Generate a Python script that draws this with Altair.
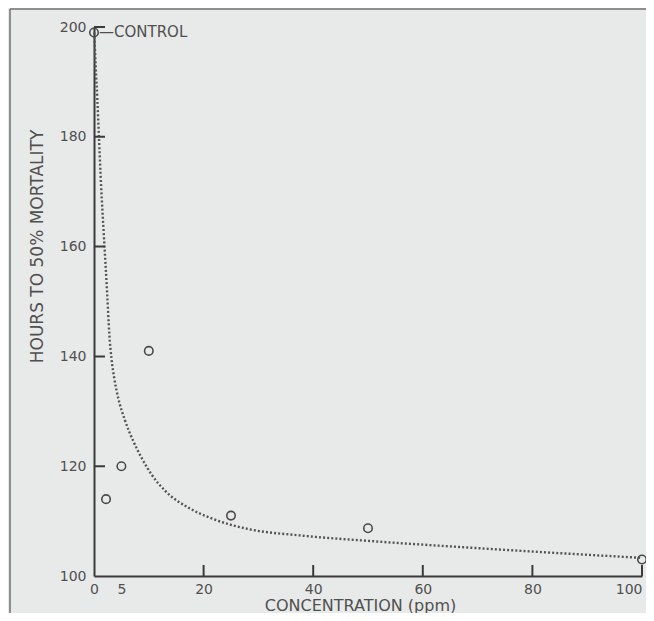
import altair as alt
import pandas as pd

# fitted dotted curve
curve_conc = [0.05, 0.3, 0.6, 0.9, 1.3, 1.8, 2.4, 2.8, 3.2, 3.7, 4.4, 5.6, 7.2, 8.7, 10.5,
              13.0, 17.5, 21.7, 28.4, 37.5, 50.0, 68.0, 86.0, 100.0]
curve_hours = [199, 193, 187, 180, 171, 162, 151.5, 144, 139.5, 136, 132.5, 128.5, 124.5, 121.5,
               118.5, 115.5, 112.3, 110.4, 108.5, 107.4, 106.4, 105.2, 104.1, 103.3]

# observed points
obs_conc = [0, 2.2, 5, 10, 25, 50, 100]
obs_hours = [199, 114, 120, 141, 111, 108.7, 103]

x_labels = [0, 5, 20, 40, 60, 80, 100]
y_labels = [100, 120, 140, 160, 180, 200]
x_ticks = [20, 40, 60, 80, 100]
y_ticks = [120, 140, 160, 180, 200]

control_label = ["\u2014CONTROL"]

FONT = "DejaVu Sans"
TEXT = "#505050"
AX = "#3a3a3a"

curve_df = pd.DataFrame({"conc": curve_conc, "hours": curve_hours})
obs_df = pd.DataFrame({"conc": obs_conc, "hours": obs_hours})
xt_df = pd.DataFrame({"conc": x_ticks, "h": [101] * len(x_ticks)})
yt_df = pd.DataFrame({"hours": y_ticks, "c": [1] * len(y_ticks)})
lab_df = pd.DataFrame({"conc": [obs_conc[0]], "hours": [obs_hours[0]], "t": control_label})

xscale = alt.Scale(domain=[0, 100], nice=False, zero=False)
yscale = alt.Scale(domain=[100, 200], nice=False, zero=False)

xaxis = alt.Axis(values=x_labels, ticks=False, grid=False, domainColor=AX, domainWidth=2,
                 labelFont=FONT, labelFontSize=14, labelColor=TEXT, labelPadding=6,
                 labelFlush=False, labelOverlap=False, format="d",
                 labelAlign=alt.expr("datum.value == 100 ? 'right' : 'center'"),
                 title="CONCENTRATION (ppm)", titleFont=FONT, titleFontSize=16,
                 titleFontWeight="normal", titleColor=TEXT, titleX=266, titleY=34,
                 titleBaseline="alphabetic", titleAlign="center")
yaxis = alt.Axis(values=y_labels, ticks=False, grid=False, domainColor=AX, domainWidth=2,
                 labelFont=FONT, labelFontSize=14, labelColor=TEXT, labelPadding=8,
                 labelFlush=False, labelOverlap=False, format="d",
                 title="HOURS TO 50% MORTALITY", titleFont=FONT, titleFontSize=17,
                 titleFontWeight="normal", titleColor=TEXT, titleAngle=270,
                 titleX=-52, titleY=219, titleBaseline="alphabetic", titleAlign="center")

curve = alt.Chart(curve_df).mark_line(
    strokeDash=[2, 2.1], strokeCap="butt", strokeWidth=2.4, color="#555555",
    interpolate="monotone"
).encode(
    x=alt.X("conc:Q", scale=xscale, axis=xaxis),
    y=alt.Y("hours:Q", scale=yscale, axis=yaxis),
)

points = alt.Chart(obs_df).mark_point(
    shape="circle", size=72, filled=False, strokeWidth=1.6, color="#4a4a4a", opacity=1
).encode(x=alt.X("conc:Q", scale=xscale), y=alt.Y("hours:Q", scale=yscale))

yt = alt.Chart(yt_df).mark_tick(
    orient="horizontal", size=11, thickness=2, color=AX, opacity=1
).encode(x=alt.X("c:Q", scale=xscale), y=alt.Y("hours:Q", scale=yscale))

xt = alt.Chart(xt_df).mark_tick(
    orient="vertical", size=11, thickness=2, color=AX, opacity=1
).encode(x=alt.X("conc:Q", scale=xscale), y=alt.Y("h:Q", scale=yscale))

label = alt.Chart(lab_df).mark_text(
    align="left", baseline="middle", dx=5, font=FONT, fontSize=15, color=TEXT
).encode(x=alt.X("conc:Q", scale=xscale), y=alt.Y("hours:Q", scale=yscale), text="t:N")

frame_top = alt.Chart(pd.DataFrame({"k": [0]})).mark_rule(color="#707070", strokeWidth=1.5).encode(
    x=alt.value(-84), x2=alt.value(560), y=alt.value(-18)
)
frame_left = alt.Chart(pd.DataFrame({"k": [0]})).mark_rule(color="#707070", strokeWidth=1.5).encode(
    x=alt.value(-84), y=alt.value(-18), y2=alt.value(600)
)

chart = alt.layer(frame_top, frame_left, curve, yt, xt, points, label).properties(
    width=548, height=549,
    autosize=alt.AutoSizeParams(type="none"),
    padding={"left": 86, "top": 19, "right": 4, "bottom": 37},
    background="#e8e9e9",
).configure_view(stroke=None)

chart.save("out.html", embed_options={"renderer": "svg", "actions": False})
